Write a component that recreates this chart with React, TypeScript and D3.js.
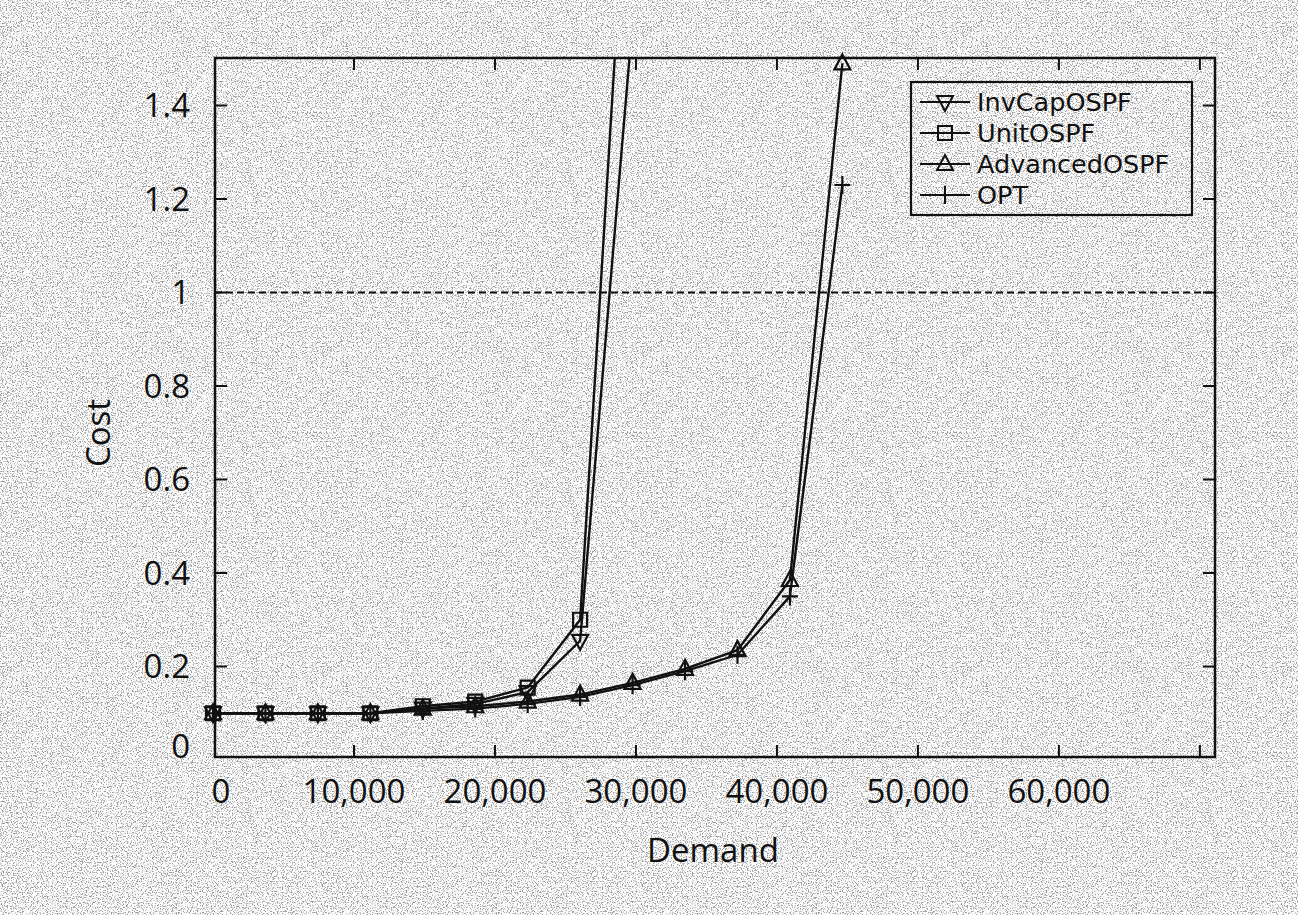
import React, { useEffect, useRef } from 'react';
import * as d3 from 'd3';

// values
const demand = [0, 3720, 7440, 11160, 14880, 18600, 22320, 26040, 29760, 33480, 37200, 40920, 44640];
const invCapOspf = [0.1, 0.1, 0.1, 0.1, 0.11, 0.12, 0.145, 0.255, 1.58];
const unitOspf = [0.1, 0.1, 0.1, 0.1, 0.115, 0.125, 0.155, 0.3, 2.12];
const advancedOspf = [0.1, 0.1, 0.1, 0.1, 0.11, 0.115, 0.125, 0.14, 0.165, 0.195, 0.235, 0.385, 1.49];
const opt = [0.1, 0.1, 0.1, 0.1, 0.105, 0.11, 0.12, 0.135, 0.16, 0.19, 0.225, 0.35, 1.23];

const seriesNames = ['InvCapOSPF', 'UnitOSPF', 'AdvancedOSPF', 'OPT'];
const seriesMarkers = ['down', 'square', 'up', 'plus'];

const xTicks = [0, 10000, 20000, 30000, 40000, 50000, 60000, 70000];
const xTickLabels = ['0', '10,000', '20,000', '30,000', '40,000', '50,000', '60,000', ''];
const yTicks = [0, 0.2, 0.4, 0.6, 0.8, 1, 1.2, 1.4];
const yTickLabels = ['0', '0.2', '0.4', '0.6', '0.8', '1', '1.2', '1.4'];

const markerPath = (kind: string) => {
  if (kind === 'up') return 'M0,-9L8,6L-8,6Z';
  if (kind === 'down') return 'M0,9L8,-6L-8,-6Z';
  if (kind === 'square') return 'M-7,-7H7V7H-7Z';
  return 'M-8,0H8M0,-9V9';
};

export default function App() {
  const ref = useRef<SVGSVGElement>(null);

  useEffect(() => {
    const width = 1298;
    const height = 915;
    const left = 215, right = 1215, top = 58, bottom = 757;
    const font = "'Open Sans', 'DejaVu Sans', sans-serif";

    const svg = d3.select(ref.current);
    svg.selectAll('*').remove();
    svg.attr('width', width).attr('height', height);

    const x = d3.scaleLinear().domain([0, 71000]).range([213, 1214]);
    const y = d3.scaleLinear().domain([0, 1.5]).range([760, 58.75]);

    // speckle of the scanned page
    const defs = svg.append('defs');
    const grain = defs.append('filter').attr('id', 'grain').attr('x', 0).attr('y', 0).attr('width', 1).attr('height', 1);
    grain.append('feTurbulence').attr('type', 'fractalNoise').attr('baseFrequency', 0.8).attr('numOctaves', 2).attr('seed', 7);
    grain.append('feColorMatrix').attr('type', 'matrix')
      .attr('values', '0 0 0 0 0  0 0 0 0 0  0 0 0 0 0  5 0 0 0 -2.45');
    defs.append('clipPath').attr('id', 'plotClip')
      .append('rect').attr('x', left).attr('y', top).attr('width', right - left).attr('height', bottom - top);

    svg.append('rect').attr('width', width).attr('height', height).attr('fill', '#fff');
    svg.append('rect').attr('width', width).attr('height', height)
      .attr('filter', 'url(#grain)').attr('opacity', 0.4);

    const ink = '#111';

    // frame
    svg.append('rect')
      .attr('x', left).attr('y', top).attr('width', right - left).attr('height', bottom - top)
      .attr('fill', 'none').attr('stroke', ink).attr('stroke-width', 2.5);

    // reference line at cost 1
    svg.append('line')
      .attr('x1', left).attr('x2', right).attr('y1', y(1)).attr('y2', y(1))
      .attr('stroke', ink).attr('stroke-width', 1.8).attr('stroke-dasharray', '7 4');

    // ticks, inside on all four sides
    const tickLen = 12;
    xTicks.forEach((t, i) => {
      if (i === 0) return;
      svg.append('line').attr('x1', x(t)).attr('x2', x(t)).attr('y1', bottom).attr('y2', bottom - tickLen)
        .attr('stroke', ink).attr('stroke-width', 2);
      svg.append('line').attr('x1', x(t)).attr('x2', x(t)).attr('y1', top).attr('y2', top + tickLen)
        .attr('stroke', ink).attr('stroke-width', 2);
    });
    yTicks.forEach((t, i) => {
      if (i === 0) return;
      svg.append('line').attr('x1', left).attr('x2', left + tickLen).attr('y1', y(t)).attr('y2', y(t))
        .attr('stroke', ink).attr('stroke-width', 2);
      svg.append('line').attr('x1', right).attr('x2', right - tickLen).attr('y1', y(t)).attr('y2', y(t))
        .attr('stroke', ink).attr('stroke-width', 2);
    });

    svg.append('g').selectAll('text').data(xTicks).enter().append('text')
      .attr('x', (d, i) => x(d) + (i === 0 ? 8 : 0))
      .attr('y', 803)
      .attr('text-anchor', 'middle')
      .attr('font-family', font).attr('font-size', 33).attr('fill', ink)
      .text((d, i) => xTickLabels[i]);

    svg.append('g').selectAll('text').data(yTicks).enter().append('text')
      .attr('x', 190)
      .attr('y', (d, i) => y(d) - (i === 0 ? 14 : 0))
      .attr('dy', '0.36em')
      .attr('text-anchor', 'end')
      .attr('font-family', font).attr('font-size', 33).attr('fill', ink)
      .text((d, i) => yTickLabels[i]);

    svg.append('text')
      .attr('x', 713).attr('y', 862)
      .attr('text-anchor', 'middle')
      .attr('font-family', font).attr('font-size', 33).attr('fill', ink)
      .text('Demand');

    svg.append('text')
      .attr('transform', 'translate(110,433) rotate(-90)')
      .attr('text-anchor', 'middle')
      .attr('font-family', font).attr('font-size', 33).attr('fill', ink)
      .text('Cost');

    // series
    const allSeries = [invCapOspf, unitOspf, advancedOspf, opt];
    const line = d3.line<number>().x((d, i) => x(demand[i])).y(d => y(d));

    allSeries.forEach((values, s) => {
      svg.append('path')
        .attr('d', line(values))
        .attr('clip-path', 'url(#plotClip)')
        .attr('fill', 'none').attr('stroke', ink).attr('stroke-width', 2.4);

      svg.append('g').selectAll('path')
        .data(values.map((v, i) => ({ v, i })).filter(p => p.v <= 1.52))
        .enter().append('path')
        .attr('transform', p => `translate(${x(demand[p.i])},${y(p.v)})`)
        .attr('d', markerPath(seriesMarkers[s]))
        .attr('fill', 'none').attr('stroke', ink).attr('stroke-width', 2.2);
    });

    // legend
    const legend = svg.append('g');
    legend.append('rect')
      .attr('x', 911).attr('y', 82).attr('width', 281).attr('height', 133)
      .attr('fill', 'none').attr('stroke', ink).attr('stroke-width', 2.2);

    const rows = legend.selectAll('.legend').data(seriesNames).enter().append('g')
      .attr('class', 'legend')
      .attr('transform', (d, i) => `translate(920,${102 + i * 31})`);

    rows.append('line').attr('x1', 0).attr('x2', 50).attr('y1', 0).attr('y2', 0)
      .attr('stroke', ink).attr('stroke-width', 2);
    rows.append('path')
      .attr('transform', 'translate(25,0)')
      .attr('d', (d, i) => markerPath(seriesMarkers[i]))
      .attr('fill', 'none').attr('stroke', ink).attr('stroke-width', 2);
    rows.append('text')
      .attr('x', 57).attr('y', 0).attr('dy', '0.36em')
      .attr('font-family', "'DejaVu Sans', sans-serif").attr('font-size', 25.5).attr('fill', ink)
      .text(d => d);
  }, []);

  return <svg ref={ref} style={{ position: 'absolute', left: 0, top: 0, display: 'block' }} />;
}
